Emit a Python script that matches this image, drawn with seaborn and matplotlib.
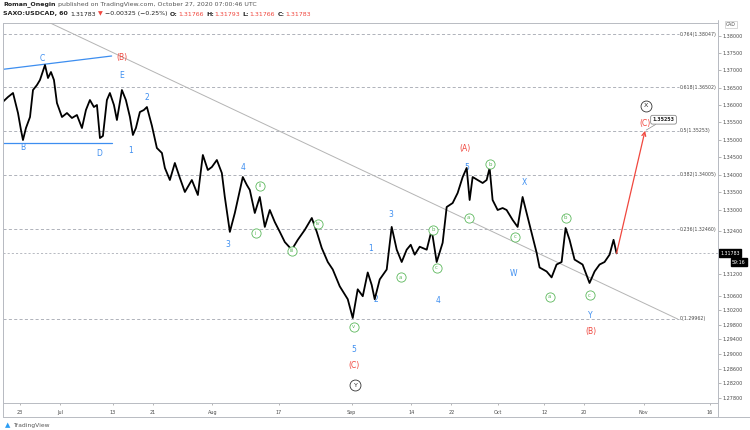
import numpy as np
import matplotlib
matplotlib.use("Agg")
import matplotlib.pyplot as plt
import seaborn as sns

sns.set_theme(style="white")
plt.rcParams['font.family'] = ['DejaVu Sans']

# ---------------- data ----------------
# time in trading days since 2020-06-23 (hourly chart, weekends skipped)
t_days = [-2.56, -1.81, -1.05, -0.30, 0.15, 0.45, 0.90, 1.51, 1.96, 2.56,
          3.01, 3.77, 4.22, 4.67, 5.12, 5.57, 6.33, 7.08, 7.83, 8.58,
          9.34, 9.94, 10.54, 11.14, 11.60, 12.05, 12.50, 13.10, 13.55, 14.16,
          14.61, 15.36, 15.96, 16.57, 17.02, 17.47, 18.07, 18.67, 19.13, 19.88,
          20.63, 21.39, 21.84, 22.59, 23.34, 24.10, 24.85, 25.90, 26.81, 27.56,
          28.31, 28.92, 29.67, 30.42, 30.87, 31.63, 32.38, 32.98, 33.58, 34.19,
          34.64, 35.39, 36.14, 36.90, 37.65, 38.40, 39.16, 39.91, 40.96, 41.87,
          42.92, 43.98, 44.73, 45.48, 46.39, 47.14, 48.19, 49.40, 50.15, 50.90,
          51.66, 52.41, 53.01, 53.46, 54.22, 55.27, 56.02, 56.78, 57.53, 58.28,
          58.89, 59.49, 60.24, 61.30, 62.05, 62.80, 63.70, 64.31, 65.21, 65.96,
          66.72, 67.32, 67.77, 68.22, 68.98, 69.73, 70.33, 70.78, 71.23, 71.99,
          72.74, 73.34, 74.25, 75.00, 75.75, 76.51, 77.26, 77.86, 78.31, 79.37,
          80.12, 80.87, 81.63, 82.23, 82.83, 83.58, 84.79, 85.84, 86.60, 87.35,
          88.10, 88.86, 89.46, 89.91]
close = [1.36090, 1.36226, 1.36342, 1.35764, 1.35276, 1.34989, 1.35333, 1.35649, 1.36428, 1.36573,
         1.36718, 1.37154, 1.36776, 1.36950, 1.36718, 1.36053, 1.35649, 1.35764, 1.35621, 1.35707,
         1.35333, 1.35851, 1.36139, 1.35937, 1.35995, 1.35046, 1.35105, 1.36139, 1.36342, 1.35995,
         1.35563, 1.36428, 1.36139, 1.35649, 1.35133, 1.35333, 1.35793, 1.35851, 1.35937, 1.35400,
         1.34761, 1.34618, 1.34191, 1.33849, 1.34333, 1.33906, 1.33509, 1.33849, 1.33424, 1.34561,
         1.34133, 1.34219, 1.34418, 1.34048, 1.33368, 1.32384, 1.32916, 1.33424, 1.33934, 1.33707,
         1.33565, 1.32916, 1.33368, 1.32524, 1.33000, 1.32662, 1.32384, 1.32100, 1.31885, 1.32162,
         1.32440, 1.32775, 1.32384, 1.31932, 1.31541, 1.31333, 1.30865, 1.30507, 1.29988, 1.30782,
         1.30590, 1.31250, 1.30901, 1.30507, 1.31057, 1.31333, 1.32524, 1.31885, 1.31541, 1.31885,
         1.32023, 1.31747, 1.31968, 1.31885, 1.32440, 1.31541, 1.32079, 1.33085, 1.33197, 1.33481,
         1.33934, 1.34191, 1.33282, 1.33934, 1.33849, 1.33764, 1.33849, 1.34191, 1.33282, 1.33000,
         1.33056, 1.33000, 1.32720, 1.32524, 1.33368, 1.32804, 1.32245, 1.31802, 1.31388, 1.31278,
         1.31113, 1.31471, 1.31541, 1.32493, 1.32162, 1.31609, 1.31471, 1.30957, 1.31278, 1.31471,
         1.31541, 1.31747, 1.32162, 1.31783]

last_price = 1.31783
target_price = 1.35253

fib_ratio = ['0', '0.236', '0.382', '0.5', '0.618', '0.764']
fib_price = [1.29962, 1.32460, 1.34005, 1.35253, 1.36502, 1.38047]

y_ticks = [1.38, 1.375, 1.37, 1.365, 1.36, 1.355, 1.35, 1.345, 1.34, 1.335, 1.33,
           1.324, 1.312, 1.306, 1.302, 1.298, 1.294, 1.29, 1.286, 1.282, 1.278]

x_tick_dates = ['2020-06-23', '2020-07-01', '2020-07-13', '2020-07-21', '2020-08-03',
                '2020-08-17', '2020-09-01', '2020-09-14', '2020-09-22', '2020-10-01',
                '2020-10-12', '2020-10-20', '2020-11-02', '2020-11-16']
x_tick_labels = ['23', 'Jul', '13', '21', 'Aug', '17', 'Sep', '14', '22', 'Oct',
                 '12', '20', 'Nov', '16']

# Elliott wave labels (text, trading day, price)
blue_labels = [('C', 3.42, 1.37348), ('E', 15.32, 1.36863), ('B', 0.50, 1.34780),
               ('D', 11.90, 1.34609), ('1', 16.72, 1.34675), ('2', 19.08, 1.36217),
               ('3', 31.37, 1.32036), ('4', 33.63, 1.34210), ('5', 50.30, 1.29136),
               ('1', 52.86, 1.31932), ('2', 53.57, 1.30505), ('3', 55.87, 1.32887),
               ('4', 62.95, 1.30458), ('5', 67.27, 1.34210), ('X', 75.95, 1.33772),
               ('W', 74.44, 1.31226), ('Y', 85.99, 1.30071)]
red_labels = [('(B)', 15.32, 1.37377), ('(C)', 50.30, 1.28679), ('(A)', 67.12, 1.34752),
              ('(B)', 85.99, 1.29603), ('(C)', 94.13, 1.35468)]
green_circles = [('i', 35.50, 1.32344), ('ii', 36.14, 1.33687), ('iii', 40.96, 1.31849),
                 ('iv', 44.88, 1.32606), ('v', 50.30, 1.29749), ('a', 57.38, 1.31115),
                 ('b', 62.20, 1.32440), ('c', 62.80, 1.31388), ('a', 67.62, 1.32783),
                 ('b', 70.89, 1.34295), ('c', 74.65, 1.32249), ('a', 79.82, 1.30577),
                 ('b', 82.23, 1.32775), ('c', 85.84, 1.30622)]
black_circles = [('X', 94.28, 1.35975), ('Y', 50.45, 1.28154)]

# drawings: blue channel lines and grey trend line (day, price)
blue_upper = [(-2.56, 1.37028), (13.81, 1.37416)]
blue_lower = [(-2.56, 1.34895), (13.81, 1.34895)]
trend_line = [(4.0, 1.38432), (99.10, 1.29962)]
arrow_start = (89.91, last_price)
arrow_end = (94.20, target_price)
fib_x = (-2.56, 99.25)

BLUE = '#3d8ef0'
RED = '#f0473e'
GREEN = '#5cb85c'
GREY = '#9a9ea8'
TXT = '#4a4a4a'

W, H = 750, 430
fig = plt.figure(figsize=(7.5, 4.3), dpi=100)
fig.patch.set_facecolor('white')
ax = fig.add_axes([3 / W, 27 / H, 715 / W, 380 / H])
ax.set_facecolor('white')
ax.set_yscale('log')

base = np.datetime64('2020-06-23')
xt = [int(np.busday_count(base, np.datetime64(d))) for d in x_tick_dates]

sns.lineplot(x=t_days, y=close, ax=ax, color='black', linewidth=1.3, sort=False,
             estimator=None, zorder=5)

ax.set_xlim(-2.56, 105.2)
ax.set_ylim(1.27666, 1.38381)

# fib levels
for r, p in zip(fib_ratio, fib_price):
    ax.plot(fib_x, [p, p], color=GREY, lw=0.55, ls=(0, (4, 3)), zorder=2)
    ax.text(fib_x[1] + 0.25, p, f'{r}({p:.5f})', fontsize=3.4, color=TXT,
            va='center', ha='left', clip_on=True, zorder=6)

# current price line
ax.axhline(last_price, color=GREY, lw=0.5, ls=(0, (3, 3)), zorder=2)

# trend line & blue lines
ax.plot(*zip(*trend_line), color='#b4b4b4', lw=0.7, zorder=3)
ax.plot(*zip(*blue_upper), color=BLUE, lw=0.9, zorder=3)
ax.plot(*zip(*blue_lower), color=BLUE, lw=0.9, zorder=3)

# labels
for s, d, p in blue_labels:
    ax.text(d, p, s, color=BLUE, fontsize=5.5, ha='center', va='center', zorder=4)
for s, d, p in red_labels:
    ax.text(d, p, s, color=RED, fontsize=5.5, ha='center', va='center', zorder=4)
for s, d, p in green_circles:
    ax.scatter([d], [p], s=44, facecolor='white', edgecolor=GREEN, linewidth=0.6, zorder=6)
    ax.text(d, p, s, color=GREEN, fontsize=3.8, ha='center', va='center', zorder=7)
for s, d, p in black_circles:
    ax.scatter([d], [p], s=62, facecolor='white', edgecolor='#333333', linewidth=0.6, zorder=6)
    ax.text(d, p, s, color='#333333', fontsize=4.6, ha='center', va='center', zorder=7)

# red projection arrow
ax.annotate('', xy=arrow_end, xytext=arrow_start,
            arrowprops=dict(arrowstyle='->', color=RED, lw=0.9, mutation_scale=7,
                            shrinkA=0, shrinkB=0), zorder=6)
ax.annotate(f'{target_price:.5f}', xy=arrow_end, xytext=(96.99, 1.35571),
            fontsize=3.4, fontweight='bold', color='#222222', ha='center', va='center',
            bbox=dict(boxstyle='round,pad=0.4', fc='white', ec='#8a8a8a', lw=0.6),
            arrowprops=dict(arrowstyle='-', color='#8a8a8a', lw=0.5, shrinkA=0, shrinkB=1),
            zorder=8)

# axes styling
for sp in ax.spines.values():
    sp.set_color('#b8bbc2')
    sp.set_linewidth(0.7)
ax.yaxis.tick_right()
ax.yaxis.set_minor_locator(matplotlib.ticker.NullLocator())
ax.set_yticks(y_ticks)
ax.set_yticklabels([f'{v:.5f}' for v in y_ticks])
ax.tick_params(axis='y', which='major', right=True, left=False, length=2, width=0.5,
               color='#999999', labelsize=3.5, labelcolor=TXT, pad=1.5)
ax.set_xticks(xt)
ax.set_xticklabels(x_tick_labels)
ax.tick_params(axis='x', which='major', bottom=True, length=1.5, width=0.5, color='#999999',
               labelsize=3.5, labelcolor=TXT, pad=3.5)
ax.grid(False)

# right axis price boxes
yt = ax.get_yaxis_transform()
ax.text(1.003, last_price, f'{last_price:.5f}', transform=yt, fontsize=3.4, color='white',
        ha='left', va='center', bbox=dict(boxstyle='square,pad=0.3', fc='black', ec='black'),
        zorder=10, clip_on=False)
ax.annotate('59:16', xy=(1.0, last_price), xycoords=yt, xytext=(14, -9),
            textcoords='offset pixels', fontsize=3.4, color='white', ha='left', va='center',
            bbox=dict(boxstyle='square,pad=0.3', fc='black', ec='black'),
            zorder=10, annotation_clip=False)

# frame lines
fig.add_artist(plt.Line2D([3 / W, 1], [1 - 417 / H, 1 - 417 / H], color='#b8bbc2', lw=0.7))
fig.add_artist(plt.Line2D([3 / W, 3 / W], [1 - 417 / H, 1 - 23 / H], color='#b8bbc2', lw=0.7))
fig.add_artist(plt.Line2D([718 / W, 718 / W], [1 - 417 / H, 1 - 20 / H], color='#b8bbc2', lw=0.7))
fig.text(731 / W, 1 - 24.5 / H, 'CAD', fontsize=3.3, color=TXT, ha='center', va='center',
         bbox=dict(boxstyle='square,pad=0.3', fc='white', ec='#c8c8c8', lw=0.5))

# header
renderer = fig.canvas.get_renderer()


def rich(x_px, y_px, parts, size):
    x = x_px
    for s, c, wgt, gap in parts:
        t = fig.text(x / W, 1 - y_px / H, s, color=c, fontsize=size, fontweight=wgt,
                     ha='left', va='center')
        x += t.get_window_extent(renderer=renderer).width + gap


rich(3, 4.5, [('Roman_Onegin', '#222222', 'bold', 2.2),
              ('published on TradingView.com, October 27, 2020 07:00:46 UTC', '#555555', 'normal', 0)],
     4.5)
rich(3, 14, [('SAXO:USDCAD, 60', '#222222', 'bold', 2.2),
             (f'{last_price:.5f}', '#222222', 'normal', 2.2),
             ('▼', RED, 'normal', 2.2),
             ('−0.00325 (−0.25%)', '#222222', 'normal', 3),
             ('O:', '#222222', 'bold', 0.5), ('1.31766', RED, 'normal', 2.2),
             ('H:', '#222222', 'bold', 0.5), ('1.31793', RED, 'normal', 2.2),
             ('L:', '#222222', 'bold', 0.5), ('1.31766', RED, 'normal', 2.2),
             ('C:', '#222222', 'bold', 0.5), ('1.31783', RED, 'normal', 0)],
     4.5)

# footer logo
fig.text(5 / W, 1 - 425 / H, '▲', fontsize=5, color='#2a9df4', ha='left', va='center')
fig.text(13 / W, 1 - 425 / H, 'TradingView', fontsize=4.3, color='#555555', ha='left', va='center')

fig.savefig('out.png', dpi=100, facecolor='white')
